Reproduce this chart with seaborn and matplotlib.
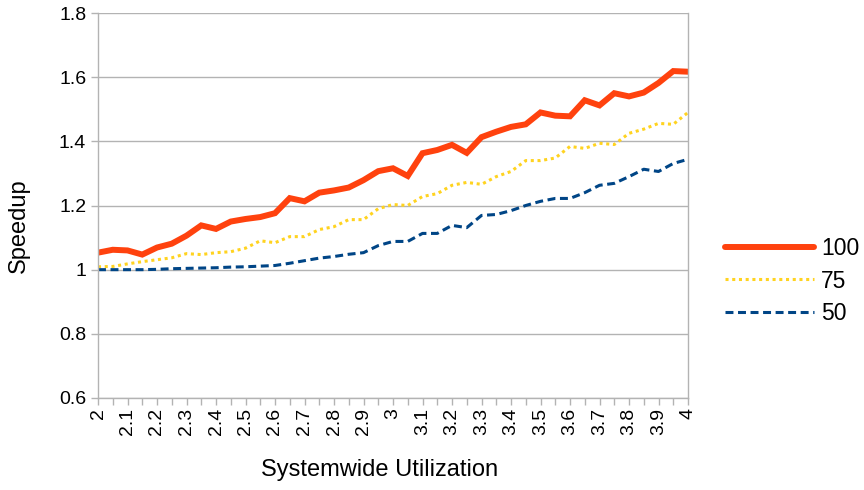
import numpy as np
import pandas as pd
import seaborn as sns
import matplotlib.pyplot as plt
from matplotlib.ticker import MultipleLocator

# utilisation steps 2.00 .. 4.00 in 0.05
util = [2.00, 2.05, 2.10, 2.15, 2.20, 2.25, 2.30, 2.35, 2.40, 2.45,
        2.50, 2.55, 2.60, 2.65, 2.70, 2.75, 2.80, 2.85, 2.90, 2.95,
        3.00, 3.05, 3.10, 3.15, 3.20, 3.25, 3.30, 3.35, 3.40, 3.45,
        3.50, 3.55, 3.60, 3.65, 3.70, 3.75, 3.80, 3.85, 3.90, 3.95, 4.00]

s100 = [1.053, 1.062, 1.060, 1.047, 1.069, 1.081, 1.106, 1.138, 1.127, 1.150,
        1.158, 1.164, 1.176, 1.223, 1.213, 1.240, 1.247, 1.256, 1.279, 1.307,
        1.316, 1.292, 1.363, 1.373, 1.389, 1.364, 1.413, 1.430, 1.445, 1.453,
        1.490, 1.480, 1.478, 1.528, 1.512, 1.550, 1.540, 1.552, 1.582, 1.619, 1.617]

s75 = [1.009, 1.010, 1.018, 1.025, 1.031, 1.037, 1.050, 1.047, 1.053, 1.056,
       1.067, 1.090, 1.084, 1.103, 1.103, 1.125, 1.134, 1.156, 1.156, 1.190,
       1.203, 1.200, 1.228, 1.237, 1.263, 1.272, 1.266, 1.290, 1.306, 1.340,
       1.340, 1.348, 1.384, 1.378, 1.394, 1.390, 1.425, 1.438, 1.456, 1.453, 1.490]

s50 = [1.000, 1.000, 1.000, 1.000, 1.001, 1.003, 1.004, 1.005, 1.006, 1.008,
       1.009, 1.011, 1.013, 1.020, 1.028, 1.036, 1.041, 1.048, 1.053, 1.075,
       1.088, 1.088, 1.113, 1.113, 1.138, 1.131, 1.169, 1.172, 1.184, 1.200,
       1.213, 1.222, 1.222, 1.240, 1.263, 1.269, 1.290, 1.313, 1.306, 1.331, 1.344]

xtick_vals = [2.0, 2.1, 2.2, 2.3, 2.4, 2.5, 2.6, 2.7, 2.8, 2.9, 3.0,
              3.1, 3.2, 3.3, 3.4, 3.5, 3.6, 3.7, 3.8, 3.9, 4.0]
xtick_labels = ["2", "2.1", "2.2", "2.3", "2.4", "2.5", "2.6", "2.7", "2.8", "2.9", "3",
                "3.1", "3.2", "3.3", "3.4", "3.5", "3.6", "3.7", "3.8", "3.9", "4"]
ytick_vals = [0.6, 0.8, 1.0, 1.2, 1.4, 1.6, 1.8]
ytick_labels = ["0.6", "0.8", "1", "1.2", "1.4", "1.6", "1.8"]

df = pd.DataFrame({"util": util, "100": s100, "75": s75, "50": s50})

sns.set_style("white")
plt.rcParams['font.family'] = ['Liberation Sans', 'DejaVu Sans']
plt.rcParams['text.color'] = 'black'
plt.rcParams['axes.labelcolor'] = 'black'
plt.rcParams['xtick.labelcolor'] = 'black'
plt.rcParams['ytick.labelcolor'] = 'black'

fig = plt.figure(figsize=(8.64, 4.9), dpi=100)
ax = fig.add_axes([98/864, 1-398/490, (688-98)/864, (398-13)/490])

grid_col = "#b3b3b3"
sns.lineplot(data=df, x="util", y="100", ax=ax, color="#ff420e", lw=4.3,
             label="100", solid_joinstyle="miter")
sns.lineplot(data=df, x="util", y="75", ax=ax, color="#ffd320", lw=2.2,
             label="75", dashes=False)
sns.lineplot(data=df, x="util", y="50", ax=ax, color="#004586", lw=2.2,
             label="50", dashes=False)
ax.lines[1].set_linestyle((0, (1, 1.2)))
ax.lines[2].set_linestyle((0, (2.6, 1.5)))

ax.set_xlim(2, 4)
ax.set_ylim(0.6, 1.8)
ax.set_xticks(xtick_vals)
ax.set_xticklabels(xtick_labels, rotation=90, fontsize=14)
ax.xaxis.set_minor_locator(MultipleLocator(0.05))
ax.set_yticks(ytick_vals)
ax.set_yticklabels(ytick_labels, fontsize=14)
ax.tick_params(axis="both", which="both", direction="out", length=5,
               width=1, color=grid_col, bottom=True, left=True)
ax.tick_params(axis="x", pad=2)
ax.yaxis.grid(True, color=grid_col, lw=1)
ax.set_axisbelow(True)
for side in ["left", "right", "bottom"]:
    ax.spines[side].set_color(grid_col)
    ax.spines[side].set_linewidth(1)
ax.spines["top"].set_visible(False)

ax.set_xlabel("Systemwide Utilization", fontsize=17)
ax.set_ylabel("Speedup", fontsize=17)
ax.xaxis.set_label_coords((380-98)/590, -(470-398)/385)
ax.yaxis.set_label_coords(-(98-19)/590, (398-226)/385)
ax.xaxis.label.set_va("center")
ax.yaxis.label.set_va("center")

ax.legend(loc="center left", bbox_to_anchor=(725/864, 1-281/490),
          bbox_transform=fig.transFigure, frameon=False, fontsize=16.5,
          handlelength=3.9, handletextpad=0.3, labelspacing=0.42,
          borderpad=0, borderaxespad=0)

fig.savefig("out.png", dpi=100)
